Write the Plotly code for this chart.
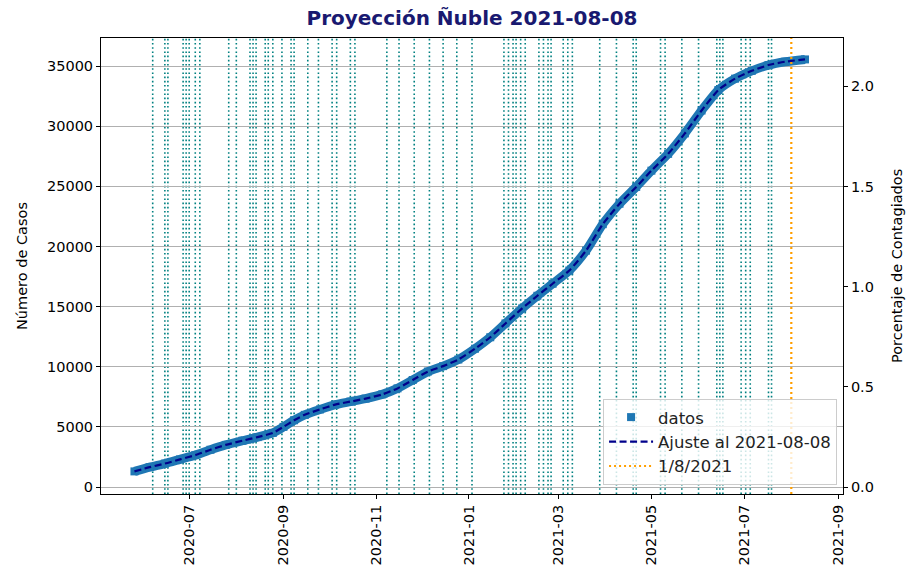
import plotly.graph_objects as go

# ---------------- data ----------------
fechas = [
    "2020-05-26", "2020-06-05", "2020-06-15", "2020-06-25", "2020-07-05",
    "2020-07-15", "2020-07-25", "2020-08-05", "2020-08-15", "2020-08-25",
    "2020-09-01", "2020-09-08", "2020-09-15", "2020-09-25", "2020-10-05",
    "2020-10-15", "2020-10-25", "2020-11-05", "2020-11-15", "2020-11-25",
    "2020-12-05", "2020-12-15", "2020-12-25", "2021-01-05", "2021-01-15",
    "2021-01-25", "2021-02-05", "2021-02-15", "2021-02-25", "2021-03-08",
    "2021-03-19", "2021-03-30", "2021-04-10", "2021-04-21", "2021-05-01",
    "2021-05-12", "2021-05-23", "2021-06-03", "2021-06-14", "2021-06-25",
    "2021-07-06", "2021-07-17", "2021-07-28", "2021-08-10",
]
casos = [
    1300, 1650, 1950, 2300, 2650,
    3100, 3500, 3850, 4150, 4500,
    5000, 5550, 6000, 6450, 6850,
    7100, 7350, 7700, 8200, 8900,
    9600, 10050, 10600, 11500, 12450,
    13600, 14850, 15900, 16900, 18000,
    19650, 21850, 23550, 24950, 26300,
    27700, 29400, 31300, 33000, 33950,
    34600, 35080, 35360, 35550,
]
ajuste = list(casos)

fechas_eventos = [
    "2020-06-07", "2020-06-15", "2020-06-17", "2020-06-27", "2020-06-29",
    "2020-07-01", "2020-07-05", "2020-07-08", "2020-07-27", "2020-08-01",
    "2020-08-10", "2020-08-12", "2020-08-14", "2020-08-20", "2020-08-22",
    "2020-08-25", "2020-08-31", "2020-09-06", "2020-09-08", "2020-09-17",
    "2020-09-24", "2020-10-03", "2020-10-06", "2020-10-15", "2020-10-18",
    "2020-11-08", "2020-11-16", "2020-11-26", "2020-12-06", "2020-12-15",
    "2020-12-24", "2021-01-03", "2021-01-24", "2021-01-27", "2021-01-30",
    "2021-02-01", "2021-02-04", "2021-02-07", "2021-02-16", "2021-02-19",
    "2021-02-22", "2021-02-24", "2021-03-04", "2021-03-07", "2021-03-10",
    "2021-03-28", "2021-04-08", "2021-04-19", "2021-04-21", "2021-05-07",
    "2021-05-10", "2021-05-21", "2021-06-01", "2021-06-13", "2021-06-15",
    "2021-06-17", "2021-06-29", "2021-07-02", "2021-07-05", "2021-07-17",
    "2021-07-19",
]
fecha_corte = "2021-08-01"
etiqueta_corte = "1/8/2021"
fecha_ajuste = "2021-08-08"

POBLACION = 1666000
y_ticks = [0, 5000, 10000, 15000, 20000, 25000, 30000, 35000]
y2_ticks = [0.0, 0.5, 1.0, 1.5, 2.0]
x_ticks = ["2020-07-01", "2020-09-01", "2020-11-01", "2021-01-01",
           "2021-03-01", "2021-05-01", "2021-07-01", "2021-09-01"]
x_ticklabels = ["2020-07", "2020-09", "2020-11", "2021-01",
                "2021-03", "2021-05", "2021-07", "2021-09"]

Y_RANGE = [-580, 37330]
X_RANGE = ["2020-05-04", "2021-09-04"]

# ---------------- figure ----------------
W, H = 908, 580
ML, MR, MT, MB = 101, 65, 38, 86
FONT = "DejaVu Sans"
FS = 14.5
FS_LEG = 16.5
fig = go.Figure()

# thick band of the data squares
fig.add_trace(go.Scatter(
    x=fechas, y=casos, mode="lines",
    line=dict(color="#1f77b4", width=9, shape="spline", smoothing=0.6),
    showlegend=False, hoverinfo="skip", legendgroup="datos"))
fig.add_trace(go.Scatter(
    x=fechas, y=casos, mode="markers", name="datos", legendgroup="datos",
    marker=dict(symbol="square", size=8, color="#1f77b4")))
fig.add_trace(go.Scatter(
    x=fechas, y=ajuste, mode="lines", name="Ajuste al " + fecha_ajuste,
    line=dict(color="#00008b", width=2.2, dash="7px,3.5px", shape="spline",
              smoothing=0.6)))
# invisible trace on the percentage axis
fig.add_trace(go.Scatter(
    x=fechas, y=[c * 100 / POBLACION for c in casos], yaxis="y2",
    mode="lines", line=dict(color="rgba(0,0,0,0)", width=0),
    showlegend=False, hoverinfo="skip"))

for f in fechas_eventos:
    fig.add_shape(type="line", xref="x", yref="paper", x0=f, x1=f, y0=0, y1=1,
                  line=dict(color="#008080", width=1.6, dash="1.6px,2.6px"),
                  layer="between")

fig.add_shape(type="line", xref="x", yref="paper", x0=fecha_corte, x1=fecha_corte,
              y0=0, y1=1, line=dict(color="#ff9f00", width=2.2, dash="2px,3px"),
              layer="above", showlegend=True, name=etiqueta_corte)

fig.add_annotation(text="Número de Casos", xref="paper", yref="paper",
                   x=0, y=0.5, xanchor="center", yanchor="middle",
                   xshift=-79, textangle=-90, showarrow=False,
                   font=dict(family=FONT, size=FS, color="black"))
fig.add_annotation(text="Porcentaje de Contagiados", xref="paper", yref="paper",
                   x=1, y=0.5, xanchor="center", yanchor="middle",
                   xshift=54, textangle=-90, showarrow=False,
                   font=dict(family=FONT, size=FS, color="black"))

fig.update_layout(
    width=W, height=H,
    margin=dict(l=ML, r=MR, t=MT, b=MB, autoexpand=False),
    paper_bgcolor="white", plot_bgcolor="white",
    font=dict(family=FONT, size=FS, color="black"),
    title=dict(text="<b>Proyección Ñuble " + fecha_ajuste + "</b>",
               x=(ML + (W - MR)) / 2 / W, xanchor="center",
               y=1 - 18 / H, yanchor="middle",
               font=dict(family=FONT, size=20, color="#191970")),
    xaxis=dict(type="date", range=X_RANGE, tickvals=x_ticks, ticktext=x_ticklabels,
               tickangle=-90, ticks="outside", ticklen=4, tickcolor="black",
               showgrid=False, showline=True, linecolor="black", linewidth=1,
               mirror=True, zeroline=False, automargin=False,
               tickfont=dict(size=FS)),
    yaxis=dict(range=Y_RANGE, tickvals=y_ticks, tickformat="d",
               ticks="outside", ticklen=4, tickcolor="black",
               showgrid=True, gridcolor="#b0b0b0", gridwidth=0.9,
               showline=True, linecolor="black", linewidth=1, mirror=True,
               zeroline=False, automargin=False),
    yaxis2=dict(overlaying="y", side="right",
                range=[v * 100 / POBLACION for v in Y_RANGE],
                tickvals=y2_ticks, tickformat=".1f",
                ticks="outside", ticklen=4, tickcolor="black",
                showgrid=False, showline=False, zeroline=False, automargin=False),
    legend=dict(x=0.992, xanchor="right", y=0.02, yanchor="bottom",
                bgcolor="rgba(255,255,255,0.8)", bordercolor="#cccccc",
                borderwidth=1, font=dict(size=FS_LEG, color="#222"),
                tracegroupgap=0, itemwidth=44),
    showlegend=True,
)

fig.write_html(
    "out.html",
    config={"displayModeBar": False},
    post_script="document.body.style.margin='0';document.body.style.overflow='hidden';",
)
